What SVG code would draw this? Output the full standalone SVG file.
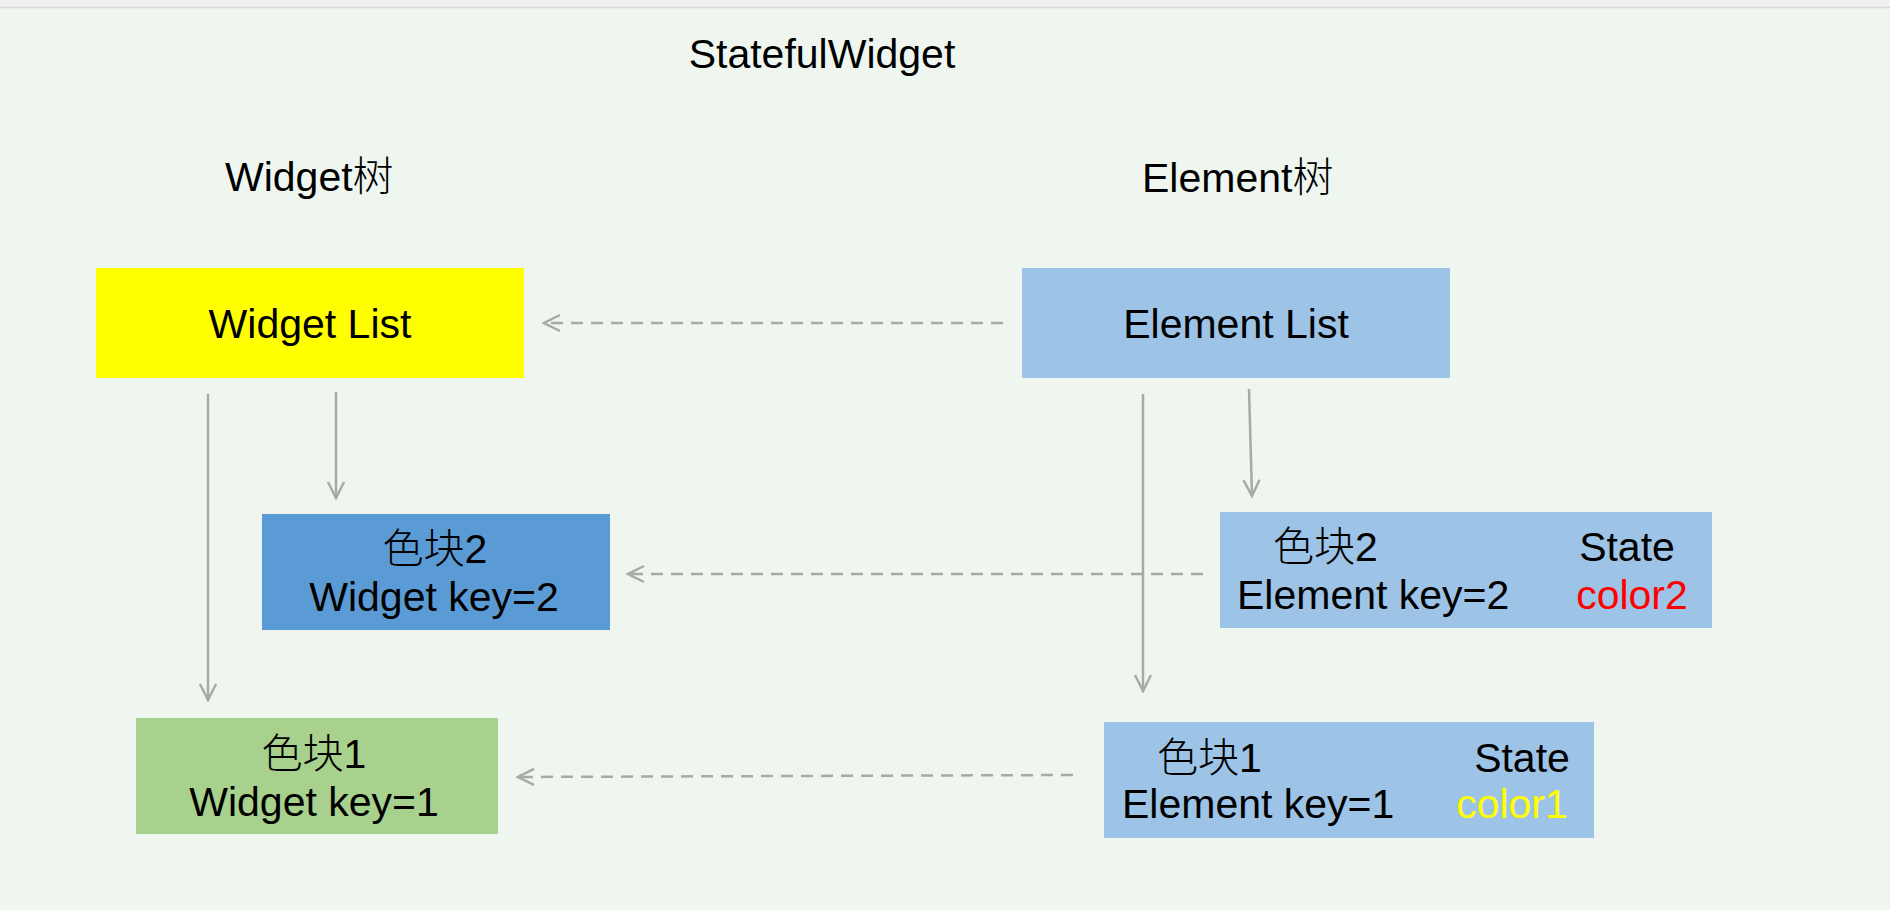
<svg xmlns="http://www.w3.org/2000/svg" width="1890" height="910" viewBox="0 0 1890 910">
<defs>
<style>
text{font-family:"Liberation Sans","Noto Sans CJK SC",Arial,sans-serif;font-size:41px;fill:#000}
.c{text-anchor:middle}
.cn{font-family:"Noto Sans CJK SC","Liberation Sans",sans-serif;font-weight:300}
.link{stroke:#a9a9a9;stroke-width:2.5;fill:none}
.dash{stroke-dasharray:12 8}
</style>
<marker id="arr" viewBox="0 0 20 20" refX="18" refY="10" markerWidth="20" markerHeight="20" markerUnits="userSpaceOnUse" orient="auto">
<path d="M2,2 L18,10 L2,18" fill="none" stroke="#a9a9a9" stroke-width="2.5"/>
</marker>
</defs>
<rect x="0" y="0" width="1890" height="910" fill="#eff6ef"/>
<rect x="0" y="0" width="1890" height="7" fill="#eff0f1"/>
<line x1="0" y1="7.5" x2="1890" y2="7.5" stroke="#d6d6d6" stroke-width="1.5"/>
<g id="title"><text x="822" y="68" class="c">StatefulWidget</text></g>
<g id="heading-widget"><text x="225" y="191">Widget<tspan class="cn">树</tspan></text></g>
<g id="heading-element"><text x="1142" y="192">Element<tspan class="cn">树</tspan></text></g>
<g id="widget-list">
<rect x="96" y="268" width="428" height="110" fill="#ffff00"/>
<text x="310" y="338" class="c">Widget List</text>
</g>
<g id="element-list">
<rect x="1022" y="268" width="428" height="110" fill="#9dc3e6"/>
<text x="1236" y="338" class="c">Element List</text>
</g>
<g id="widget-2">
<rect x="262" y="514" width="348" height="116" fill="#5b9bd5"/>
<text x="435" y="563" class="c"><tspan class="cn">色块</tspan>2</text>
<text x="434" y="611" class="c">Widget key=2</text>
</g>
<g id="element-2">
<rect x="1220" y="512" width="492" height="116" fill="#9dc3e6"/>
<text x="1273" y="561"><tspan class="cn">色块</tspan>2</text>
<text x="1237" y="609">Element key=2</text>
<text x="1627" y="561" class="c">State</text>
<text x="1632" y="609" class="c" style="fill:#ff0000">color2</text>
</g>
<g id="widget-1">
<rect x="136" y="718" width="362" height="116" fill="#a9d18e"/>
<text x="314" y="768" class="c"><tspan class="cn">色块</tspan>1</text>
<text x="314" y="816" class="c">Widget key=1</text>
</g>
<g id="element-1">
<rect x="1104" y="722" width="490" height="116" fill="#9dc3e6"/>
<text x="1157" y="772"><tspan class="cn">色块</tspan>1</text>
<text x="1122" y="818">Element key=1</text>
<text x="1522" y="772" class="c">State</text>
<text x="1512" y="818" class="c" style="fill:#ffff00">color1</text>
</g>
<g id="connectors">
<line class="link" x1="208" y1="394" x2="208" y2="700" marker-end="url(#arr)"/>
<line class="link" x1="336" y1="392" x2="336" y2="498" marker-end="url(#arr)"/>
<line class="link" x1="1143" y1="394" x2="1143" y2="691" marker-end="url(#arr)"/>
<line class="link" x1="1249" y1="389" x2="1252" y2="496" marker-end="url(#arr)"/>
<line class="link dash" x1="1003" y1="323" x2="544" y2="323" marker-end="url(#arr)"/>
<line class="link dash" x1="1203" y1="574" x2="628" y2="574" marker-end="url(#arr)"/>
<line class="link dash" x1="1073" y1="775" x2="518" y2="777" marker-end="url(#arr)"/>
</g>
</svg>
